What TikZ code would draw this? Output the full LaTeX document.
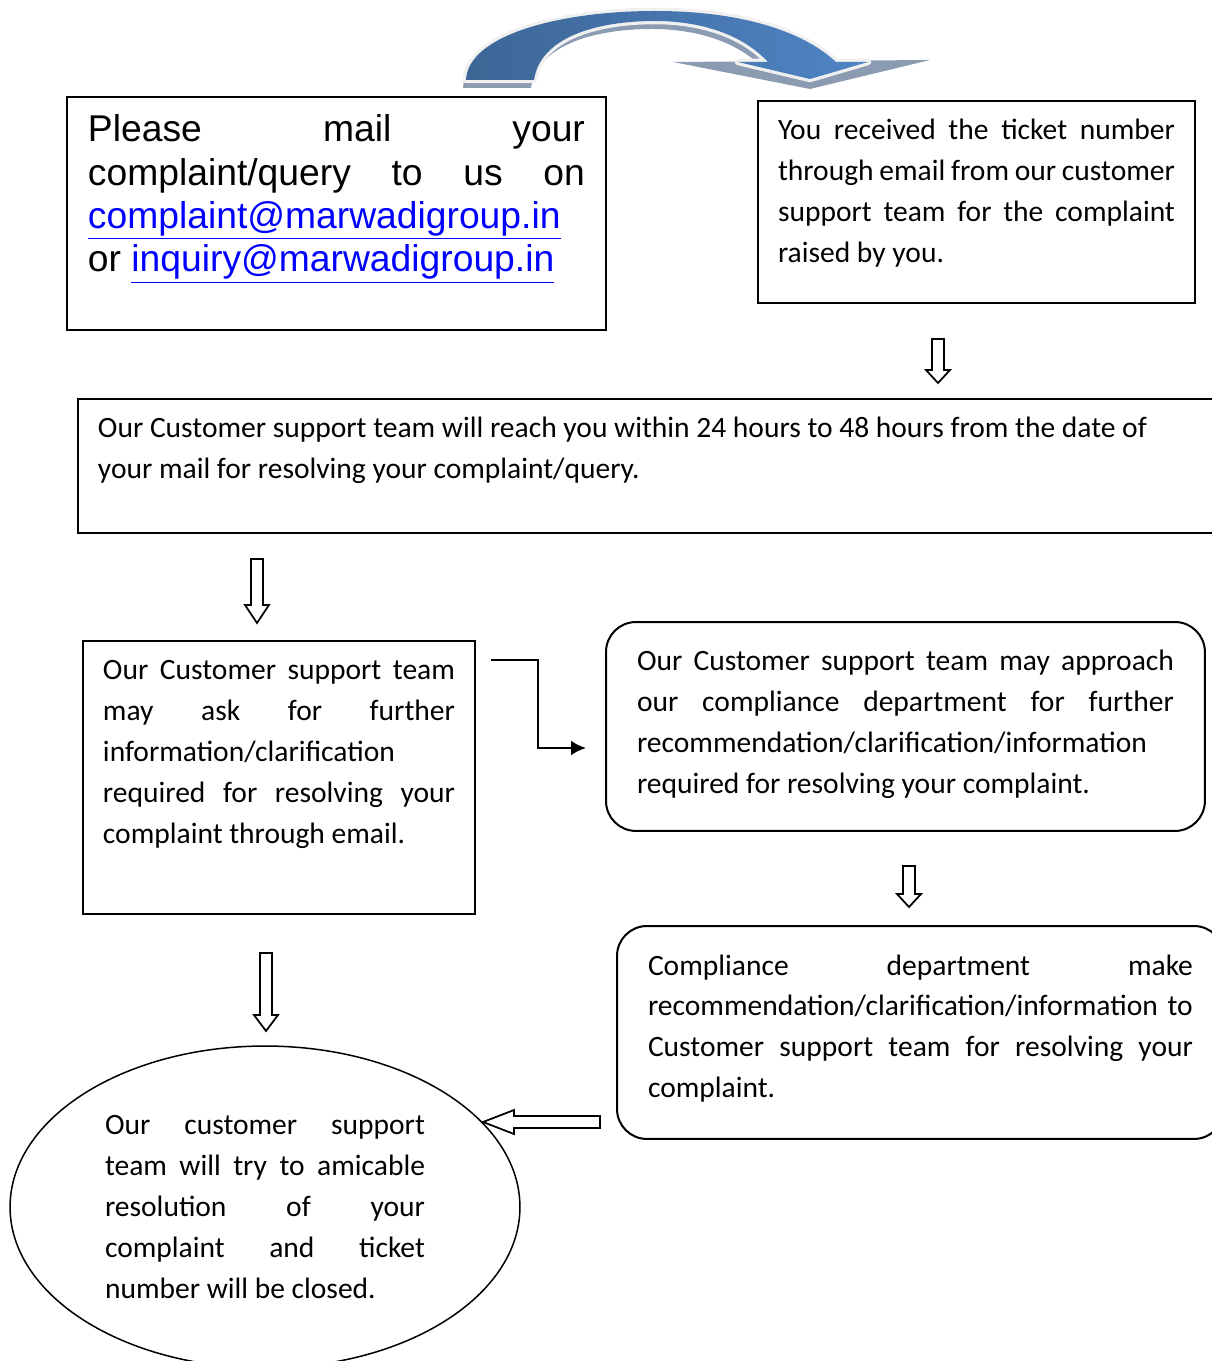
\documentclass[tikz,border=0pt]{standalone}
\usepackage{fontspec}
\setmainfont{Carlito}
\newfontfamily\arialfont{Liberation Sans}
\usetikzlibrary{shapes.geometric,arrows.meta}
\definecolor{linkblue}{HTML}{0000FF}
\definecolor{ribbondark}{HTML}{3D6696}
\definecolor{ribbonlight}{HTML}{4F84C4}
\definecolor{ribbonrim}{HTML}{F0F0F0}
\definecolor{ribbonshade}{HTML}{8A9BB2}
\setlength{\parindent}{0pt}
\tikzset{
  card/.style={draw, line width=0.04cm, outer sep=0pt, inner ysep=0pt, inner xsep=0.4cm,
    anchor=north west, align=justify, font=\fontsize{16.8}{23.33}\selectfont},
  roundcard/.style={card, rounded corners=0.6cm, inner xsep=0.62cm},
  oval/.style={draw, ellipse, line width=0.03cm, inner sep=0pt, align=justify,
    font=\fontsize{16.8}{23.33}\selectfont},
  hollowline/.style={draw, line width=0.035cm, fill=white},
  elbow/.style={line width=0.05cm, -{Latex[length=0.3cm,width=0.3cm]}},
  pics/hollowdown/.style 2 args={code={
    \draw[hollowline] (-6,0) -- (-6,{#1-#2}) -- (-12,{#1-#2}) -- (0,#1)
      -- (12,{#1-#2}) -- (6,{#1-#2}) -- (6,0) -- cycle;}}
}
\begin{document}
\begin{tikzpicture}[x=0.02cm,y=-0.02cm]
  \useasboundingbox (0,0) rectangle (1212,1361);
  % curved arrow on top
  \fill[ribbonshade] (673,62) -- (930,60) -- (810,89) -- cycle;
  \begin{scope}[shift={(-3,8)}]
    \fill[ribbonshade] (466,80) .. controls (468,35) and (560,11) .. (655,11)
      .. controls (745,11) and (805,33) .. (836,62) -- (868,62) -- (810,79)
      -- (738,62) -- (768,62) .. controls (742,34) and (700,21) .. (655,21)
      .. controls (595,21) and (540,38) .. (534,80) -- cycle;
  \end{scope}
  \draw[ribbonrim, line width=0.13cm, line join=round]
    (466,80) .. controls (468,35) and (560,11) .. (655,11)
    .. controls (745,11) and (805,33) .. (836,62) -- (868,62) -- (810,79)
    -- (738,62) -- (768,62) .. controls (742,34) and (700,21) .. (655,21)
    .. controls (595,21) and (540,38) .. (534,80) -- cycle;
  \shade[left color=ribbondark, right color=ribbonlight]
    (466,80) .. controls (468,35) and (560,11) .. (655,11)
    .. controls (745,11) and (805,33) .. (836,62) -- (868,62) -- (810,79)
    -- (738,62) -- (768,62) .. controls (742,34) and (700,21) .. (655,21)
    .. controls (595,21) and (540,38) .. (534,80) -- cycle;

  \node[card, text width=9.94cm, inner xsep=0.42cm, font=\arialfont\fontsize{21.2}{24.64}\selectfont]
    (mail) at (67,97) {\rule{0pt}{0.9cm}Please mail your\linebreak
    complaint/query to us on\linebreak
    \textcolor{linkblue}{\underline{complaint@marwadigroup.in}}\hfill\break
    or \textcolor{linkblue}{\underline{inquiry@marwadigroup.in}}\rule[-1.16cm]{0pt}{1.16cm}};
  \node[card, text width=7.94cm] (ticket) at (758,101) {\rule{0pt}{0.78cm}You received
    the ticket number\linebreak through email from our customer\linebreak support team
    for the complaint\linebreak raised by you.\rule[-0.8cm]{0pt}{0.8cm}};
  \node[card, text width=22cm] (reach) at (78,399) {\rule{0pt}{0.78cm}Our Customer
    support team will reach you within 24 hours to 48 hours from the date of\hfill\break
    your mail for resolving your complaint/query.\rule[-1.08cm]{0pt}{1.08cm}};
  \node[card, text width=7.04cm] (ask) at (83,641) {\rule{0pt}{0.78cm}Our Customer
    support team\linebreak may ask for further\linebreak
    information/clarification\hfill\break required for resolving your\linebreak
    complaint through email.\rule[-1.4cm]{0pt}{1.4cm}};
  \node[roundcard, text width=10.74cm] (approach) at (606,622) {\rule{0pt}{0.98cm}Our
    Customer support team may approach\linebreak our compliance department for
    further\linebreak recommendation/clarification/information\hfill\break
    required for resolving your complaint.\rule[-0.74cm]{0pt}{0.74cm}};
  \node[roundcard, text width=10.9cm] (recommend) at (617,926) {\rule{0pt}{0.98cm}Compliance
    department make\linebreak recommendation/clarification/information to\linebreak
    Customer support team for resolving your\linebreak
    complaint.\rule[-0.82cm]{0pt}{0.82cm}};
  \node[oval, text width=6.4cm, minimum width=10.2cm, minimum height=6.44cm]
    (close) at (265,1207) {Our customer support\linebreak team will try to
    amicable\linebreak resolution of your\linebreak complaint and ticket\linebreak
    number will be closed.};

  % hollow arrows between the steps
  \pic at (938,339) {hollowdown={44}{13}};
  \pic at (257,559) {hollowdown={64}{18}};
  \pic at (909,866) {hollowdown={41}{13}};
  \pic at (266,953) {hollowdown={78}{16}};
  \pic[rotate=-90] at (600,1122) {hollowdown={117}{31}};

  \coordinate (askout) at (491,660);
  \coordinate (approachin) at (586,748);
  \draw[elbow] (askout) -- ++(47,0) |- (approachin);
\end{tikzpicture}
\end{document}
